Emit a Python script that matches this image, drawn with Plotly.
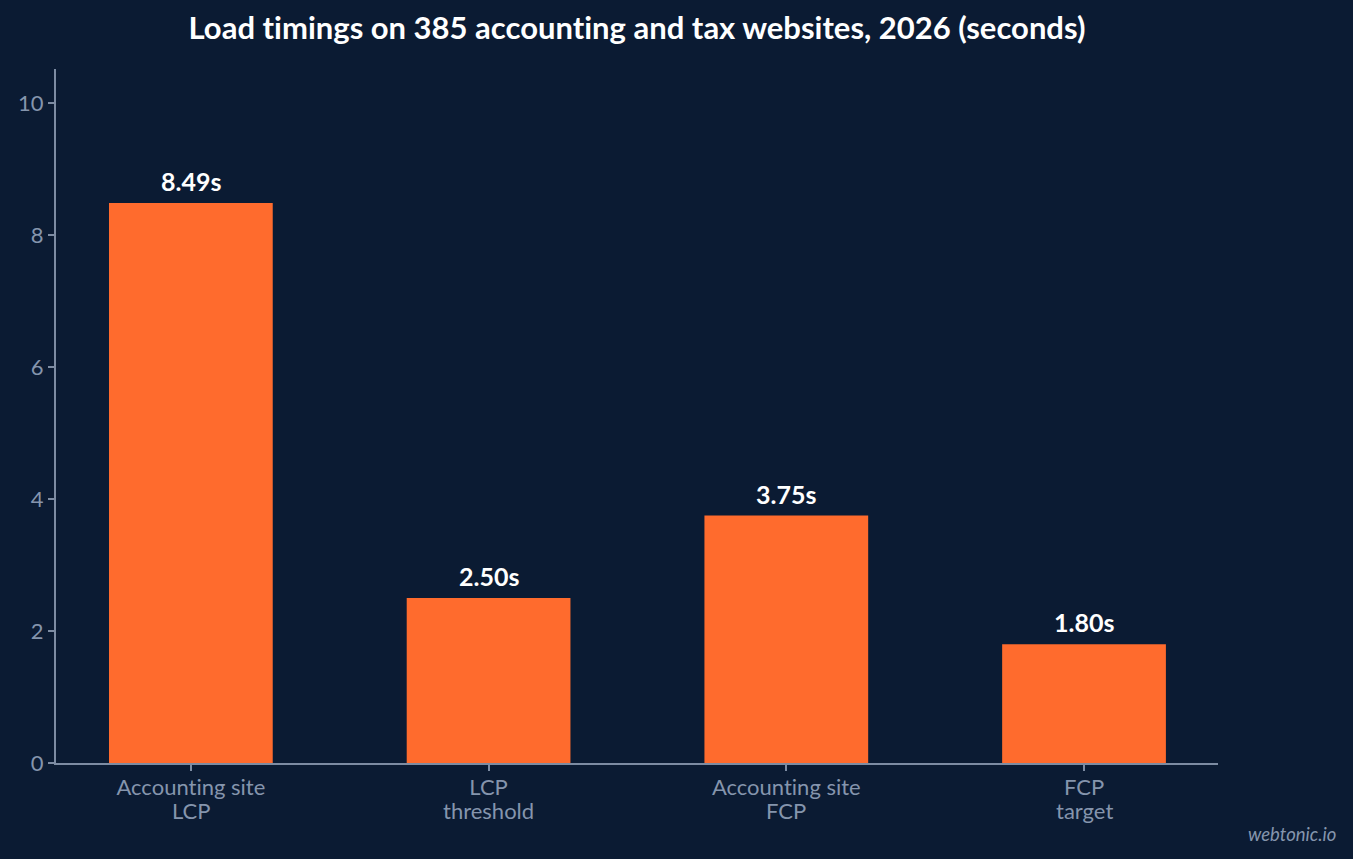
import plotly.graph_objects as go

# chart data
label_top = ["Accounting site", "LCP", "Accounting site", "FCP"]
label_bottom = ["LCP", "threshold", "FCP", "target"]
seconds = [8.49, 2.50, 3.75, 1.80]
y_ticks = [0, 2, 4, 6, 8, 10]

BG = "#0b1b33"
ORANGE = "#ff6b2d"
MUTED = "#8595ad"
AXIS = "#7d8ca3"


def nolig(s):
    # Lato draws a "ti" ligature; the reference doesn't
    return s.replace("ti", "t\u200ci")


positions = list(range(len(seconds)))

bar_trace = go.Bar(
    x=positions,
    y=seconds,
    width=0.55,
    marker=dict(color=ORANGE, line=dict(width=0)),
    hoverinfo="skip",
)

# value labels above each bar
value_labels = [
    dict(
        x=pos, y=val, xref="x", yref="y",
        text=f"<b>{val:.2f}s</b>",
        showarrow=False, yanchor="bottom", yshift=5,
        font=dict(family="Lato", size=25, color="white"),
    )
    for pos, val in zip(positions, seconds)
]

# second line of the category labels (tighter spacing than <br> gives)
second_lines = [
    dict(
        x=pos, y=0, xref="x", yref="paper",
        text=nolig(txt), showarrow=False, yanchor="middle", yshift=-47,
        font=dict(family="Lato", size=22, color=MUTED),
    )
    for pos, txt in zip(positions, label_bottom)
]

watermark = dict(
    text="<i>webtonic.io</i>",
    xref="paper", yref="paper", x=1.103, y=-0.103,
    xanchor="right", yanchor="middle", showarrow=False,
    font=dict(family="Lato", size=18.5, color=MUTED),
)

layout = go.Layout(
    title=dict(
        text="<b>" + nolig("Load timings on 385 accounting and tax websites, 2026 (seconds)") + "</b>",
        x=0.5, xref="paper", y=0.967, yref="container", yanchor="middle",
        font=dict(family="Lato", size=31, color="white"),
    ),
    paper_bgcolor=BG,
    plot_bgcolor=BG,
    font=dict(family="Lato", color=MUTED),
    showlegend=False,
    margin=dict(l=56, r=135, t=69, b=96),
    xaxis=dict(
        tickmode="array",
        tickvals=positions,
        ticktext=[nolig(t) for t in label_top],
        range=[-0.453, 3.45],
        showgrid=False, zeroline=False,
        showline=True, linecolor=AXIS, linewidth=2,
        ticks="outside", ticklen=6, tickcolor=AXIS, tickwidth=1.5,
        ticklabelstandoff=-2,
        tickfont=dict(family="Lato", size=22, color=MUTED),
    ),
    yaxis=dict(
        range=[0, 10.52],
        tickvals=y_ticks,
        showgrid=False, zeroline=False,
        showline=True, linecolor=AXIS, linewidth=2,
        ticks="outside", ticklen=6, tickcolor=AXIS, tickwidth=1.5,
        tickfont=dict(family="Lato", size=22, color=MUTED),
    ),
    annotations=value_labels + second_lines + [watermark],
    width=1353, height=859,
)

fig = go.Figure(data=[bar_trace], layout=layout)
fig.write_html(
    "out.html",
    config={"displayModeBar": False},
    post_script="document.body.style.margin='0';document.body.style.background='#0b1b33';",
)
